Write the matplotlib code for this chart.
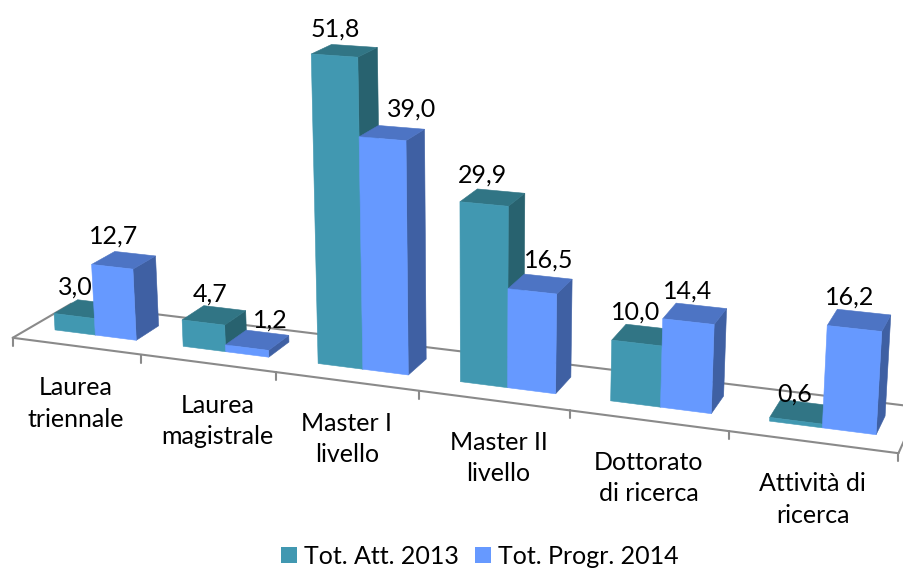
import numpy as np
import matplotlib
matplotlib.use("Agg")
import matplotlib.pyplot as plt
from matplotlib.patches import Polygon, Patch

categories = ["Laurea\ntriennale", "Laurea\nmagistrale", "Master I\nlivello",
              "Master II\nlivello", "Dottorato\ndi ricerca", "Attività di\nricerca"]
series_names = ["Tot. Att. 2013", "Tot. Progr. 2014"]
att_2013 = [3.0, 4.7, 51.8, 29.9, 10.0, 0.6]
progr_2014 = [12.7, 1.2, 39.0, 16.5, 14.4, 16.2]

# hand-placed label nudges of the original (px, relative to top-front centre)
label_dx = [[1, 7, 1, -2, -1, -1], [1, 23, 29, 16, -1, -5]]
label_dy = [[-29, -28, -27, -29, -31, -27], [-31, -28, -30, -31, -31, -31]]
cat_dx = [0, 10, 0, 5, 0, 0]

plt.rcParams['font.family'] = ['Lato', 'DejaVu Sans']
FS = 18
TEAL = ("#4198B1", "#317585", "#28626F")
BLUE = ("#6699FF", "#4D74C4", "#3F60A3")
GRAY = "#8A8A8A"

fig = plt.figure(figsize=(9.04, 5.69), dpi=100)
ax = fig.add_axes([0, 0, 1, 1])
ax.set_xlim(0, 904)
ax.set_ylim(569, 0)
ax.axis("off")

# Floor homography: (u = category axis, v = depth) -> screen, fitted to the floor outline
NCAT = len(categories)
src = [(0, 0), (1, 0), (2, 0), (3, 0), (4, 0), (5, 0), (6, 0), (0, 1), (6, 1)]
dst = [(13, 337), (141, 355), (276, 373), (419, 390), (570, 410), (730, 432), (898, 453),
       (71, 304), (919, 407)]
A, b = [], []
for (u, v), (x, y) in zip(src, dst):
    A.append([u, v, 1, 0, 0, 0, -u * x, -v * x]); b.append(x)
    A.append([0, 0, 0, u, v, 1, -u * y, -v * y]); b.append(y)
h = np.linalg.lstsq(np.array(A, float), np.array(b, float), rcond=None)[0]
H = np.array([h[:3], h[3:6], [h[6], h[7], 1.0]])
VANISH = np.array([479.0, 7600.0, 1.0])   # vertical vanishing point
S = 0.893 * 6.15 / (7600 - 370)


def proj(u, v, z=0.0):
    p = H @ np.array([u, v, 1.0]) - z * S * VANISH
    return p[0] / p[2], p[1] / p[2]


# Floor outline and ticks
line = dict(color=GRAY, lw=1.5, zorder=1, solid_capstyle="round")
for pts in ([(0, 0), (NCAT, 0)], [(0, 1), (NCAT, 1)], [(0, 0), (0, 1)], [(NCAT, 0), (NCAT, 1)]):
    p = np.array([proj(*q) for q in pts])
    ax.plot(p[:, 0], p[:, 1], **line)
for i in range(NCAT + 1):
    x, y = proj(i, 0)
    ax.plot([x, x], [y, y + 8], **line)

GL, GR, V0, V1 = 0.19, 0.83, 0.31, 0.72
MID = (GL + GR) / 2


def poly(pts, color, z):
    ax.add_patch(Polygon([proj(*q) for q in pts], closed=True, facecolor=color,
                         edgecolor=color, lw=0.4, zorder=z))


zo = 2
for i in range(NCAT):
    for j, (vals, cols) in enumerate(((att_2013, TEAL), (progr_2014, BLUE))):
        val = vals[i]
        u0 = i + (GL if j == 0 else MID)
        u1 = i + (MID if j == 0 else GR)
        poly([(u1, V0, 0), (u1, V1, 0), (u1, V1, val), (u1, V0, val)], cols[2], zo)
        poly([(u0, V0, val), (u1, V0, val), (u1, V1, val), (u0, V1, val)], cols[1], zo + 0.1)
        poly([(u0, V0, 0), (u1, V0, 0), (u1, V0, val), (u0, V0, val)], cols[0], zo + 0.2)
        zo += 1
        x, y = proj((u0 + u1) / 2, V0, val)
        ax.text(x + label_dx[j][i], y + label_dy[j][i],
                f"{val:.1f}".replace(".", ","), ha="center", va="center",
                fontsize=FS, color="black", zorder=50)

# Category labels
for i, name in enumerate(categories):
    x, y = proj(i + 0.5, 0)
    ax.text(x + cat_dx[i], y + 57.5, name, ha="center", va="center", fontsize=FS,
            linespacing=1.43, color="black", zorder=50)

handles = [Patch(facecolor=TEAL[0]), Patch(facecolor=BLUE[0])]
ax.legend(handles, series_names, loc="center", bbox_to_anchor=(479.5 / 904, 1 - 556.5 / 569),
          ncol=2, frameon=False, fontsize=FS, handlelength=0.64, handleheight=0.64,
          handletextpad=0.28, columnspacing=0.64, borderpad=0, borderaxespad=0)

fig.savefig("out.png", dpi=100)
